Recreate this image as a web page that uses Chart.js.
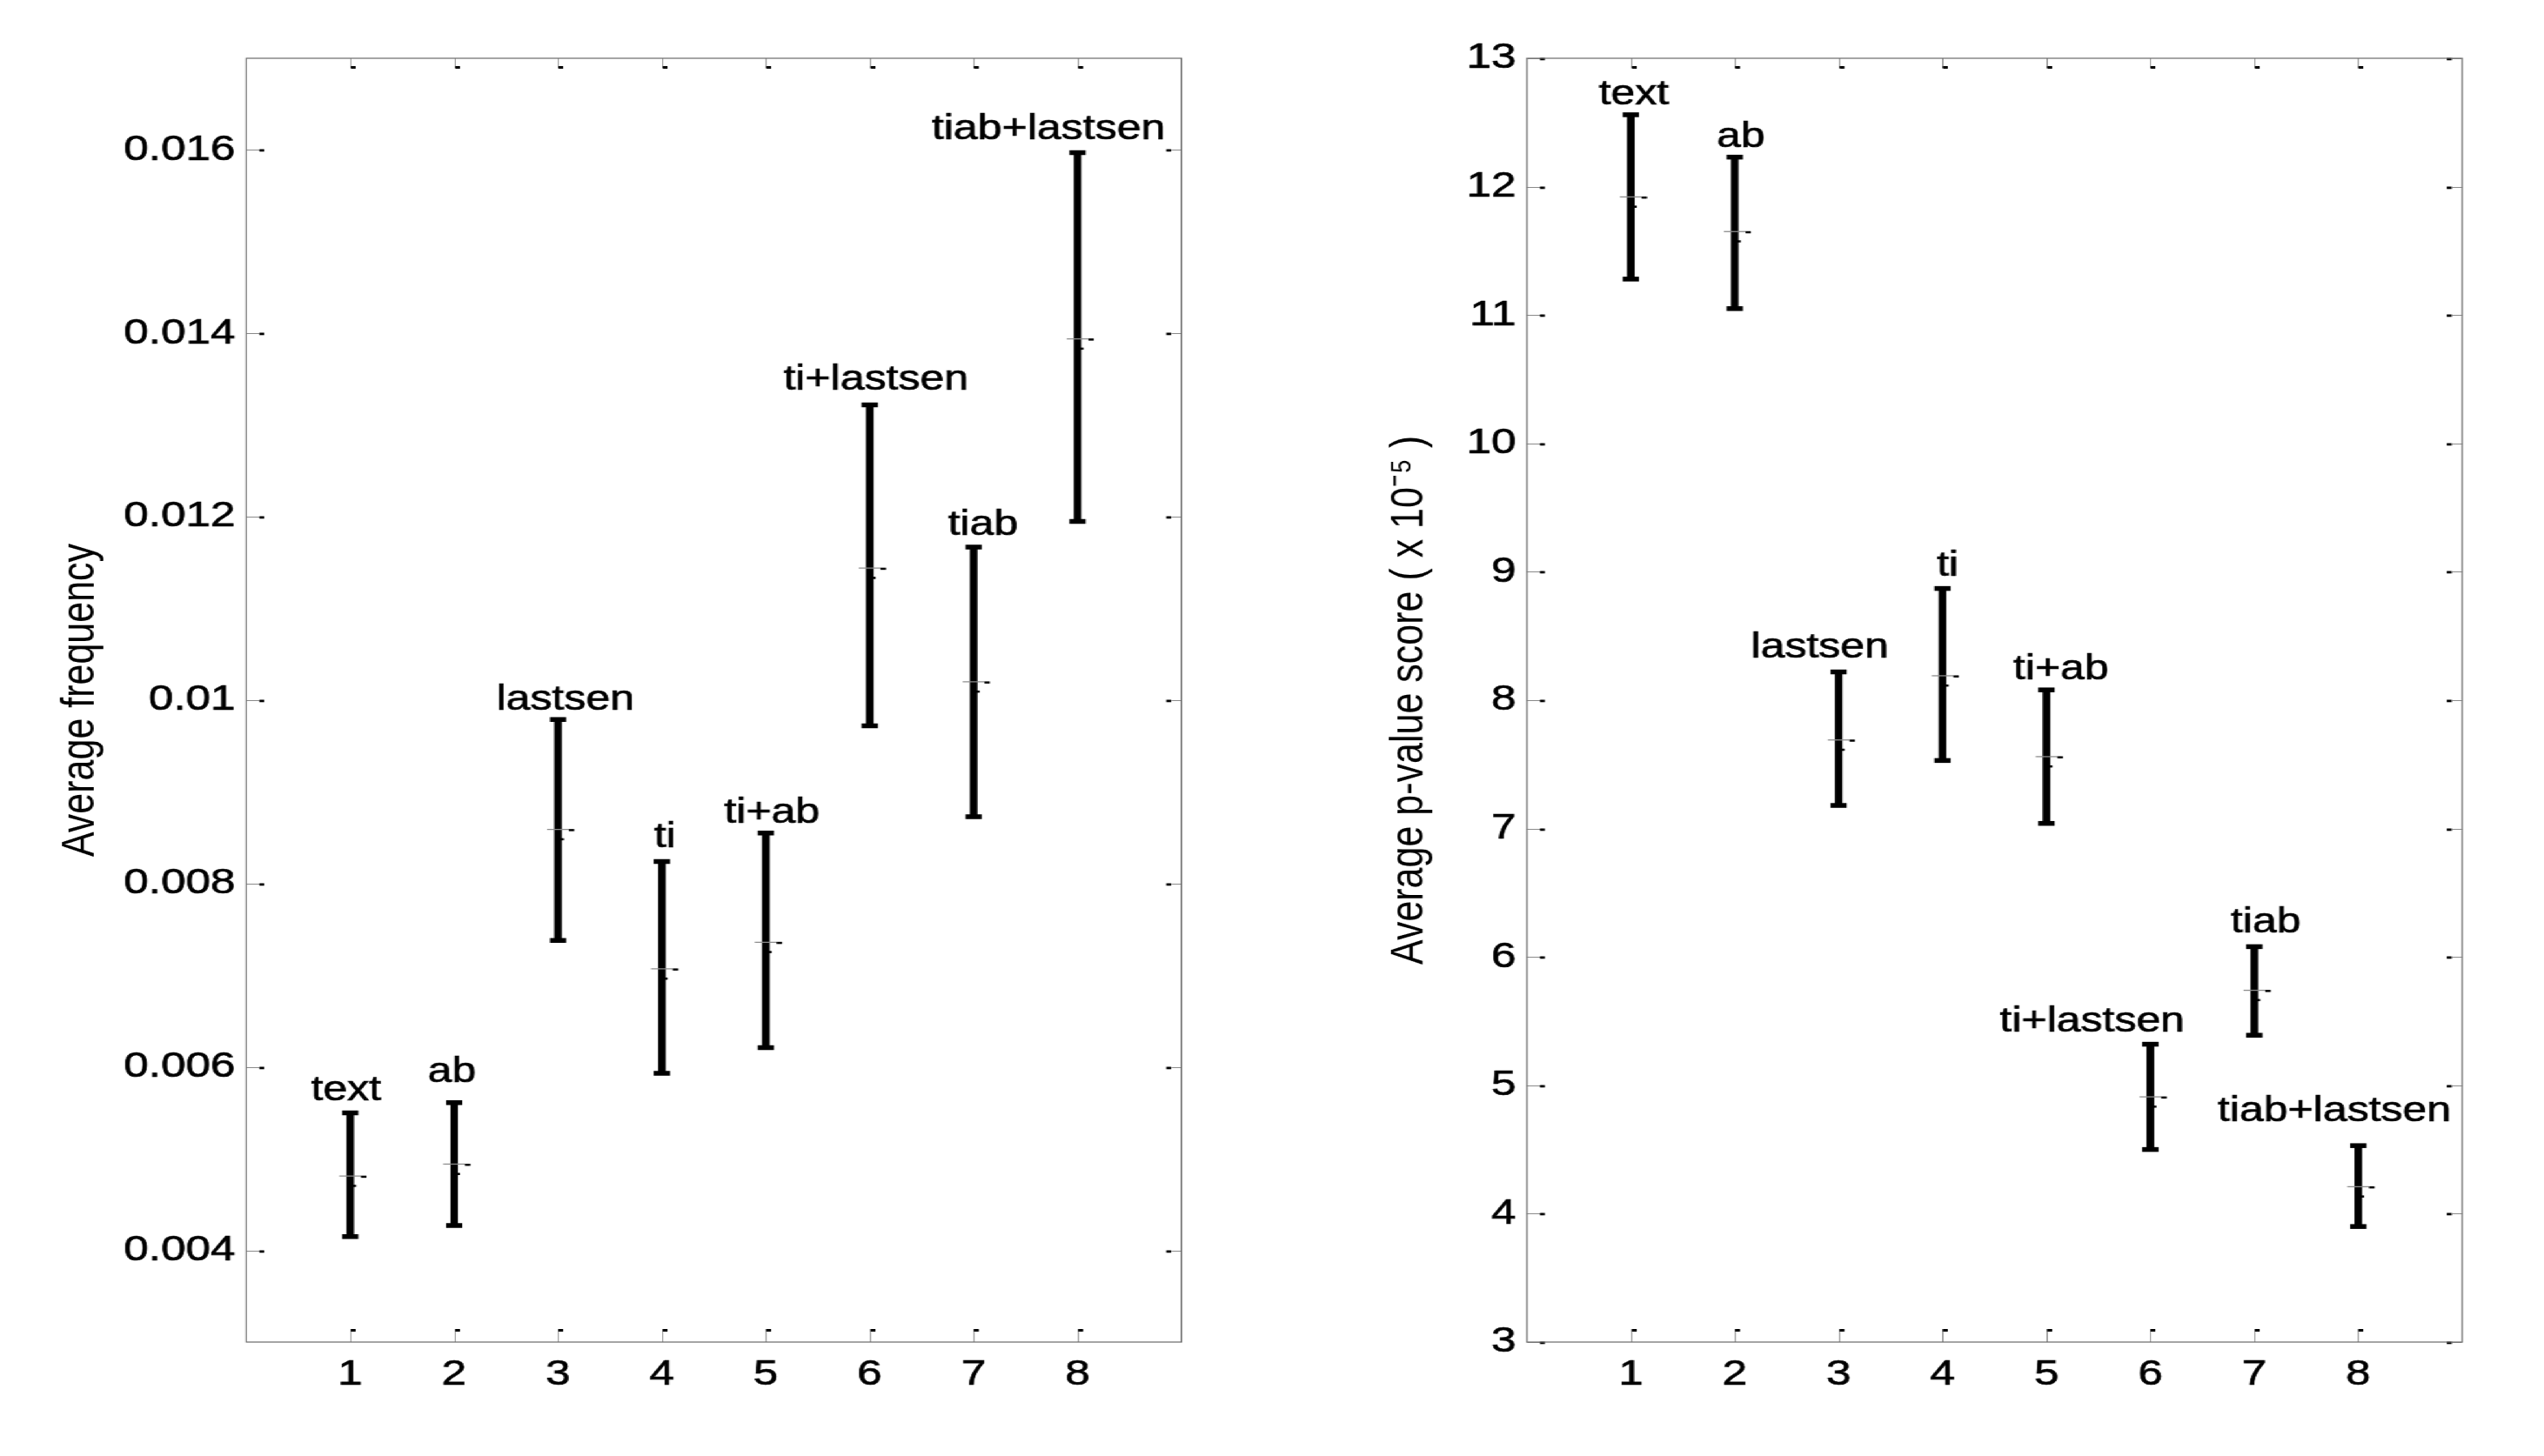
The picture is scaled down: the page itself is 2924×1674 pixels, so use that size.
<!DOCTYPE html>
<html><head><meta charset="utf-8">
<script src="https://cdn.jsdelivr.net/npm/chart.js@4.4.1/dist/chart.umd.min.js"></script>
<style>
html,body{margin:0;padding:0;background:#fff;overflow:hidden;}
#wrap{position:absolute;left:0;top:0;width:2340px;height:1674px;transform:scaleX(1.25);transform-origin:0 0;}
#c1{position:absolute;left:0;top:0;}
#c2{position:absolute;left:1170px;top:0;}
</style></head><body>
<div id="wrap"><canvas id="c1" width="1170" height="1674"></canvas><canvas id="c2" width="1170" height="1674"></canvas></div>
<script>
// ---- data ----
const categories = [1, 2, 3, 4, 5, 6, 7, 8];
const xTickLabels = ['1', '2', '3', '4', '5', '6', '7', '8'];
const methodNames = ['text', 'ab', 'lastsen', 'ti', 'ti+ab', 'ti+lastsen', 'tiab', 'tiab+lastsen'];

const freqLow  = [0.00415, 0.00427, 0.00738, 0.00593, 0.00621, 0.00972, 0.00873, 0.01195];
const freqHigh = [0.00550, 0.00561, 0.00979, 0.00824, 0.00855, 0.01322, 0.01167, 0.01597];
const freqMean = [0.00481, 0.00494, 0.00859, 0.00707, 0.00736, 0.01144, 0.01020, 0.01394];
const freqTickValues = [0.004, 0.006, 0.008, 0.010, 0.012, 0.014, 0.016];
const freqTickLabels = ['0.004', '0.006', '0.008', '0.01', '0.012', '0.014', '0.016'];
const freqLabelX = [0.96, 1.98, 3.07, 4.03, 5.06, 6.06, 7.09, 7.72];
const freqLabelY = [0.00564, 0.00584, 0.00990, 0.00840, 0.00866, 0.01339, 0.01180, 0.01612];

const pvalLow  = [11.28, 11.05, 7.18, 7.53, 7.04, 4.50, 5.39, 3.90];
const pvalHigh = [12.56, 12.23, 8.22, 8.87, 8.08, 5.32, 6.08, 4.53];
const pvalMean = [11.92, 11.65, 7.69, 8.19, 7.56, 4.91, 5.74, 4.21];
const pvalTickValues = [3, 4, 5, 6, 7, 8, 9, 10, 11, 12, 13];
const pvalTickLabels = ['3', '4', '5', '6', '7', '8', '9', '10', '11', '12', '13'];
const pvalLabelX = [1.03, 2.06, 2.82, 4.05, 5.14, 5.44, 7.11, 7.77];
const pvalLabelY = [12.64, 12.31, 8.33, 8.97, 8.16, 5.42, 6.19, 4.72];

// ---- drawing ----
const FONT = '"Liberation Sans", Arial, Helvetica, sans-serif';

const framePlugin = {
  id: 'frame',
  afterDatasetsDraw(chart, args, o) {
    const {ctx, chartArea: a, scales: {x, y}} = chart;
    ctx.save();
    // inward ticks
    ctx.lineWidth = 1;
    for (const v of o.yTicks) {
      const py = Math.round(y.getPixelForValue(v)) + 0.5;
      ctx.strokeStyle = '#8a8a8a';
      ctx.beginPath();
      ctx.moveTo(a.left, py); ctx.lineTo(a.left + 12, py);
      ctx.moveTo(a.right, py); ctx.lineTo(a.right - 9, py);
      ctx.stroke();
      ctx.fillStyle = '#000';
      ctx.fillRect(a.left + 12, py - 1, 4.5, 2.8);
      ctx.fillRect(a.right - 14, py - 1, 4.5, 2.8);
    }
    for (const v of categories) {
      const px = Math.round(x.getPixelForValue(v)) + 0.5;
      ctx.strokeStyle = '#8a8a8a';
      ctx.beginPath();
      ctx.moveTo(px, a.bottom); ctx.lineTo(px, a.bottom - 15);
      ctx.moveTo(px, a.top); ctx.lineTo(px, a.top + 11);
      ctx.stroke();
      ctx.fillStyle = '#000';
      ctx.fillRect(px, a.bottom - 15, 4.5, 3);
      ctx.fillRect(px, a.top + 9, 4.5, 3);
    }
    // axes box
    ctx.strokeStyle = '#6a6a6a';
    ctx.lineWidth = 1.2;
    ctx.strokeRect(a.left, a.top, a.right - a.left, a.bottom - a.top);
    // small dark dashes next to the mean markers
    ctx.fillStyle = '#000';
    o.mean.forEach((m, i) => {
      const px = x.getPixelForValue(categories[i]);
      const py = y.getPixelForValue(m);
      ctx.fillRect(px + 10, py - 0.5, 5, 2.5);
      ctx.fillRect(px + 2.5, py + 10, 3, 2.5);
    });
    // method labels
    ctx.font = '40px ' + FONT;
    ctx.fillStyle = '#000';
    ctx.strokeStyle = '#000';
    ctx.lineWidth = 0.7;
    ctx.textAlign = 'center';
    ctx.textBaseline = 'alphabetic';
    methodNames.forEach((name, i) => {
      const tx = x.getPixelForValue(o.labelX[i]);
      const ty = y.getPixelForValue(o.labelY[i]);
      ctx.fillText(name, tx, ty);
      ctx.strokeText(name, tx, ty);
    });
    ctx.restore();
  }
};

function makeChart(canvas, cfg) {
  const points = (arr) => categories.map((c, i) => ({x: c, y: arr[i]}));
  return new Chart(canvas, {
    type: 'bar',
    data: {
      datasets: [
        {
          type: 'bar',
          data: categories.map((c, i) => ({x: c, y: [cfg.low[i], cfg.high[i]]})),
          backgroundColor: '#000',
          borderWidth: 0,
          barThickness: 6.4,
          order: 3
        },
        {
          type: 'line', data: points(cfg.high), showLine: false,
          pointStyle: 'line', pointRadius: 7.5, pointBorderWidth: 5.5, pointBorderColor: '#000', order: 1
        },
        {
          type: 'line', data: points(cfg.low), showLine: false,
          pointStyle: 'line', pointRadius: 7.5, pointBorderWidth: 5.5, pointBorderColor: '#000', order: 1
        },
        {
          type: 'line', data: points(cfg.mean), showLine: false,
          pointStyle: 'line', pointRadius: 10, pointBorderWidth: 1.3, pointBorderColor: '#8c8c8c', order: 0
        }
      ]
    },
    options: {
      responsive: false,
      devicePixelRatio: 1,
      animation: false,
      events: [],
      layout: {padding: {left: 0, top: 67, right: cfg.padRight, bottom: 0}},
      plugins: {
        legend: {display: false},
        tooltip: {enabled: false},
        frame: {yTicks: cfg.yTicks, mean: cfg.mean, labelX: cfg.labelX, labelY: cfg.labelY}
      },
      scales: {
        x: {
          type: 'linear', min: 0, max: 9, offset: false,
          grid: {display: false}, border: {display: false},
          afterBuildTicks: (s) => { s.ticks = categories.map(v => ({value: v})); },
          afterFit: (s) => { s.height = 131; },
          ticks: {
            autoSkip: false, maxRotation: 0, color: '#000', padding: 5,
            textStrokeColor: '#000', textStrokeWidth: 0.7,
            font: {family: FONT, size: 41},
            callback: (v) => xTickLabels[categories.indexOf(v)]
          }
        },
        y: {
          type: 'linear', min: cfg.yMin, max: cfg.yMax,
          grid: {display: false}, border: {display: false},
          afterBuildTicks: (s) => { s.ticks = cfg.yTicks.map(v => ({value: v})); },
          afterFit: (s) => { s.width = cfg.yAxisWidth; },
          ticks: {
            autoSkip: false, color: '#000', padding: 2,
            textStrokeColor: '#000', textStrokeWidth: 0.7,
            font: {family: FONT, size: 41},
            callback: (v) => cfg.yTickLabels[cfg.yTicks.findIndex(t => Math.abs(t - v) < 1e-9)]
          },
          title: {
            display: true, text: cfg.title, color: '#000',
            font: {family: FONT, size: 43},
            padding: {top: cfg.titlePad, bottom: 0}
          }
        }
      }
    },
    plugins: [framePlugin]
  });
}

makeChart(document.getElementById('c1'), {
  low: freqLow, high: freqHigh, mean: freqMean,
  labelX: freqLabelX, labelY: freqLabelY,
  yMin: 0.003, yMax: 0.017, yTicks: freqTickValues, yTickLabels: freqTickLabels,
  title: 'Average frequency', titlePad: 48, yAxisWidth: 226.4, padRight: 83.6
});
makeChart(document.getElementById('c2'), {
  low: pvalLow, high: pvalHigh, mean: pvalMean,
  labelX: pvalLabelX, labelY: pvalLabelY,
  yMin: 3, yMax: 13, yTicks: pvalTickValues, yTickLabels: pvalTickLabels,
  title: 'Average p-value score ( x 10\u207B\u2075 )', titlePad: 100, yAxisWidth: 234, padRight: 76
});
</script>
</body></html>
